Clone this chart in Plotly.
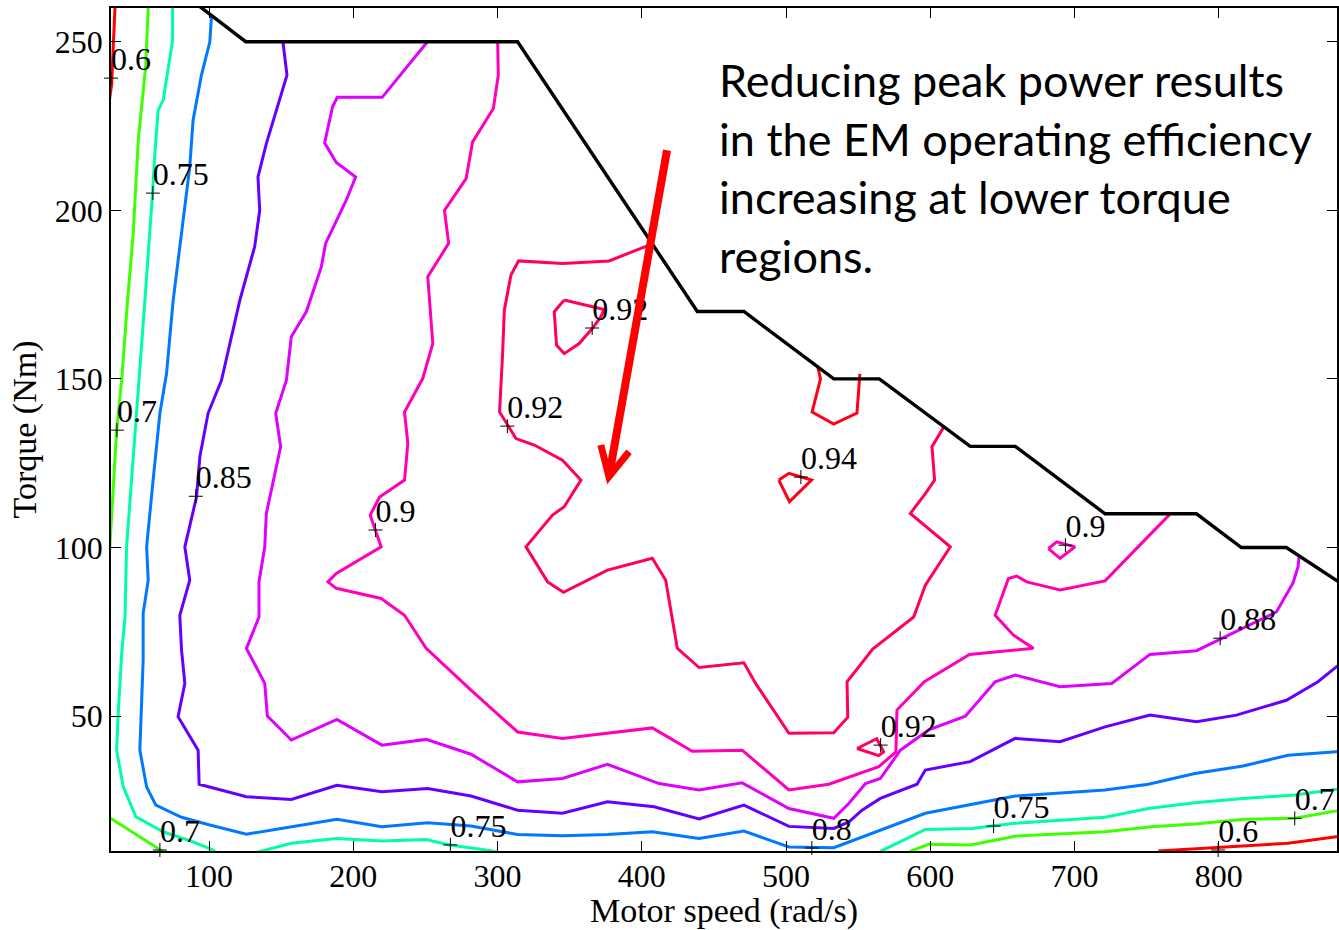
import plotly.graph_objects as go

# ---------------- data (speed in rad/s, torque in Nm) ----------------
X_TICKS = [100, 200, 300, 400, 500, 600, 700, 800]
Y_TICKS = [50, 100, 150, 200, 250]

# maximum torque envelope (black)
ENVELOPE_SPEED = [90.0, 125.4, 313.9, 438.5, 470.8, 533.1, 564.7, 627.7, 658.9, 721.2, 784.6, 815.7, 846.9, 881.5, 900.0]
ENVELOPE_TORQUE = [261.6, 250.0, 250.0, 170.0, 170.0, 150.0, 150.0, 130.0, 130.0, 110.0, 110.0, 100.0, 100.0, 90.3, 85.1]

# efficiency 0.6
C060_A_SPEED = [35.0, 34.7, 32.4, 31.0]
C060_A_TORQUE = [262.0, 259.6, 237.1, 233.0]
C060_B_SPEED = [758.1, 799.6, 848.0, 881.5, 900.0]
C060_B_TORQUE = [10.0, 11.1, 12.3, 14.2, 15.2]

# efficiency 0.7
C070_A_SPEED = [58.0, 57.8, 56.0, 50.9, 47.4, 43.5, 39.4, 35.9, 32.4, 30.0]
C070_A_TORQUE = [262.0, 259.6, 242.5, 220.8, 193.1, 173.4, 149.6, 134.8, 109.1, 91.5]
C070_B_SPEED = [30.0, 31.8, 63.6, 67.3, 69.2]
C070_B_TORQUE = [20.2, 19.7, 11.1, 10.0, 9.5]
C070_C_SPEED = [584.0, 587.3, 598.9, 627.7, 658.9, 721.2, 753.4, 783.5, 818.1, 852.7, 881.5, 900.0]
C070_C_TORQUE = [9.0, 10.1, 12.0, 11.8, 14.4, 15.7, 17.2, 18.0, 19.4, 19.7, 21.9, 23.3]

# efficiency 0.75
C075_A_SPEED = [74.7, 74.7, 68.2, 64.7, 62.4, 60.8, 55.5, 53.2, 49.8, 42.8, 41.7, 39.4, 37.0, 35.9,
                40.5, 49.3, 68.2, 88.9, 102.8, 104.5]
C075_A_TORQUE = [262.0, 250.4, 232.7, 229.7, 216.9, 205.0, 173.3, 159.5, 139.8, 100.2, 79.4, 68.6, 50.8, 39.9,
                 29.0, 20.1, 15.7, 12.7, 10.3, 9.5]
C075_B_SPEED = [132.0, 137.4, 157.0, 188.2, 220.4, 250.5, 266.6, 295.5, 300.0]
C075_B_TORQUE = [9.5, 10.1, 12.3, 13.7, 13.0, 13.4, 11.8, 10.1, 9.6]
C075_C_SPEED = [563.0, 566.5, 596.6, 628.8, 643.9, 658.9, 721.2, 751.2, 783.5, 816.9, 852.7, 881.5, 900.0]
C075_C_TORQUE = [9.0, 10.1, 16.4, 16.7, 17.5, 18.2, 20.0, 22.6, 24.3, 25.6, 26.6, 28.3, 29.4]

# efficiency 0.8
C080_SPEED = [101.7, 100.5, 94.7, 88.9, 86.6, 80.9, 75.1, 70.5, 65.9, 61.2, 56.7, 57.8, 54.3, 54.3, 53.2, 52.0,
              56.7, 63.1, 80.9, 100.5, 125.9, 155.9, 188.6, 219.8, 251.6, 281.6, 313.9, 345.0, 376.2, 407.3,
              439.7, 470.8, 502.0, 533.1, 543.5, 566.5, 596.6, 658.9, 721.2, 751.2, 783.5, 816.9, 848.1, 881.5, 900.0]
C080_TORQUE = [257.8, 249.9, 240.1, 226.7, 212.9, 193.1, 173.3, 151.6, 139.8, 120.0, 100.2, 90.3, 80.5, 66.6, 51.8, 39.9,
               29.0, 23.6, 20.0, 17.7, 15.0, 17.2, 19.4, 17.2, 18.4, 17.4, 14.9, 14.5, 14.9, 15.7,
               13.7, 15.9, 11.2, 11.0, 12.7, 16.4, 21.2, 26.3, 28.1, 29.8, 33.0, 35.2, 38.4, 39.4, 40.0]

# efficiency 0.85
C085_SPEED = [151.2, 154.0, 139.7, 133.9, 135.1, 131.6, 121.3, 108.6, 99.3, 93.6, 91.3, 83.2, 86.6, 79.7, 80.9,
              83.2, 78.5, 92.4, 93.1, 125.9, 157.0, 188.6, 219.8, 251.6, 281.6, 313.9, 345.0, 376.2, 408.5,
              439.7, 470.8, 502.0, 533.1, 543.5, 552.7, 565.4, 590.8, 596.6, 627.7, 658.9, 690.0, 721.2, 752.3,
              784.6, 812.3, 846.9, 868.8, 881.5, 900.0]
C085_TORQUE = [250.0, 240.1, 219.8, 209.9, 200.0, 189.2, 173.3, 149.6, 139.8, 126.9, 115.0, 100.2, 90.3, 79.9, 69.6,
               59.7, 49.8, 39.9, 29.8, 26.1, 25.3, 29.5, 27.6, 28.5, 26.3, 22.1, 21.2, 24.6, 23.1,
               19.5, 23.6, 17.3, 16.7, 18.6, 22.1, 25.6, 29.8, 34.0, 36.5, 43.4, 42.4, 46.8, 50.3,
               48.3, 50.3, 54.7, 60.2, 64.6, 71.0]

# efficiency 0.88
C088_SPEED = [251.4, 220.0, 188.9, 185.6, 180.1, 188.2, 201.6, 195.1, 180.8, 177.8, 167.4, 157.0, 153.6, 146.2,
              149.6, 139.7, 138.6, 134.6, 134.6, 125.9, 138.6, 140.4, 157.0, 188.6, 219.8, 250.5, 281.6, 313.9,
              345.0, 376.2, 412.0, 439.7, 469.6, 502.0, 533.1, 543.5, 555.1, 565.4, 579.3, 598.9, 624.3, 645.0,
              658.9, 690.0, 725.8, 752.3, 784.6, 801.9, 840.0, 851.5, 855.0, 855.7]
C088_TORQUE = [250.0, 233.5, 233.5, 230.7, 220.0, 214.2, 209.9, 203.0, 190.2, 183.2, 169.9, 162.5, 149.6, 139.8,
               129.9, 110.1, 100.2, 89.8, 79.4, 70.1, 59.7, 50.0, 42.9, 49.0, 41.4, 43.1, 38.7, 30.5,
               31.5, 35.7, 30.0, 28.1, 30.2, 22.6, 19.7, 24.1, 30.0, 31.5, 39.9, 45.9, 50.0, 60.2,
               62.2, 58.7, 59.7, 68.3, 69.4, 73.0, 80.9, 89.5, 94.3, 97.4]

# efficiency 0.9
C090_A_SPEED = [300.1, 300.5, 297.1, 282.7, 278.2, 263.2, 266.1, 251.6, 255.1, 248.1, 235.5, 237.8, 235.5, 218.2,
                211.7, 219.3, 188.2, 182.4, 188.2, 219.3, 235.5, 250.5, 281.6, 313.9, 345.0, 376.2, 407.3, 435.0,
                469.6, 502.0, 529.7, 564.3, 576.2, 576.9, 595.9, 627.2, 671.5, 657.7, 645.0, 654.2, 660.0, 666.9,
                690.0, 721.2, 745.4, 766.2]
C090_A_TORQUE = [250.0, 240.1, 230.2, 220.3, 209.4, 200.0, 190.2, 180.3, 160.5, 150.1, 140.2, 130.9, 120.0, 115.0,
                 109.6, 100.2, 92.3, 89.8, 87.9, 84.9, 79.9, 70.1, 57.7, 45.3, 43.4, 44.9, 46.5, 39.6,
                 39.9, 28.1, 29.8, 35.0, 39.4, 51.8, 60.2, 68.3, 70.1, 74.0, 79.9, 90.8, 91.5, 89.8,
                 87.4, 90.1, 100.7, 109.9]
C090_B_SPEED = [681.9, 687.7, 700.4, 690.0, 681.9]
C090_B_TORQUE = [99.7, 101.7, 100.2, 96.8, 99.7]

# efficiency 0.92
C092_A_SPEED = [405.1, 377.4, 345.0, 314.6, 309.3, 304.7, 303.5, 301.4, 312.8, 325.5, 345.0, 357.8, 346.2, 338.1,
                319.7, 334.7, 345.7, 376.2, 407.3, 416.6, 424.6, 439.7, 470.8, 478.9, 502.0, 533.1, 542.8, 542.3,
                560.1, 588.5, 596.6, 613.9, 586.2, 596.6, 603.0, 601.2, 609.3]
C092_A_TORQUE = [189.7, 185.0, 184.2, 185.0, 180.8, 170.4, 157.5, 140.2, 132.3, 130.4, 125.9, 120.0, 112.1, 109.6,
                 100.2, 89.8, 86.7, 93.3, 96.8, 90.3, 70.1, 64.4, 65.8, 59.7, 44.9, 45.1, 49.7, 60.2,
                 69.9, 79.4, 88.8, 100.2, 110.1, 116.0, 120.0, 129.9, 135.7]
C092_B_SPEED = [346.2, 373.9, 371.6, 365.8, 356.6, 346.2, 340.9, 339.3, 346.2]
C092_B_TORQUE = [173.4, 170.6, 168.4, 165.0, 160.5, 157.5, 160.0, 169.9, 173.4]
C092_C_SPEED = [549.2, 562.9, 567.7, 564.3, 549.2]
C092_C_TORQUE = [40.4, 43.3, 39.4, 38.3, 40.4]

# efficiency 0.94
C094_A_SPEED = [521.8, 523.9, 518.1, 533.1, 549.2, 550.9, 551.2]
C094_A_TORQUE = [154.0, 150.0, 140.2, 136.6, 139.9, 150.0, 151.5]
C094_B_SPEED = [495.0, 502.0, 517.7, 502.4, 495.0]
C094_B_TORQUE = [120.0, 122.0, 120.0, 113.6, 120.0]

# contour labels
LABEL_SPEED = [32.0, 61.0, 36.1, 90.8, 215.4, 306.8, 365.6, 510.3, 693.7, 801.0, 565.6, 517.9, 643.9, 852.7, 799.6, 267.3, 65.9]
LABEL_TORQUE = [239.2, 205.1, 134.8, 115.2, 105.2, 136.0, 165.1, 120.9, 100.7, 73.1, 41.4, 10.9, 17.4, 19.7, 10.3, 11.8, 10.3]
LABEL_TEXT = ["0.6", "0.75", "0.7", "0.85", "0.9", "0.92", "0.92", "0.94", "0.9", "0.88", "0.92", "0.8", "0.75",
              "0.7", "0.6", "0.75", "0.7"]

# annotation arrow (speed, torque)
ARROW_TAIL = (417.5, 217.8)
ARROW_TIP = (377.2, 121.0)
ARROW_LEFT_ARM = (371.6, 130.4)
ARROW_RIGHT_ARM = (391.2, 128.4)

NOTE_LINES = ["Reducing peak power results", "in the EM operating efficiency",
              "increasing at lower torque", "regions."]

LEVEL_COLORS = {
    0.60: "#ff0000",
    0.70: "#40ff00",
    0.75: "#00ffa0",
    0.80: "#0078ff",
    0.85: "#6400ff",
    0.88: "#e000ff",
    0.90: "#ff00b8",
    0.92: "#ff0060",
    0.94: "#ff0018",
}

SEGMENTS = [
    (0.60, C060_A_SPEED, C060_A_TORQUE), (0.60, C060_B_SPEED, C060_B_TORQUE),
    (0.70, C070_A_SPEED, C070_A_TORQUE), (0.70, C070_B_SPEED, C070_B_TORQUE), (0.70, C070_C_SPEED, C070_C_TORQUE),
    (0.75, C075_A_SPEED, C075_A_TORQUE), (0.75, C075_B_SPEED, C075_B_TORQUE), (0.75, C075_C_SPEED, C075_C_TORQUE),
    (0.80, C080_SPEED, C080_TORQUE),
    (0.85, C085_SPEED, C085_TORQUE),
    (0.88, C088_SPEED, C088_TORQUE),
    (0.90, C090_A_SPEED, C090_A_TORQUE), (0.90, C090_B_SPEED, C090_B_TORQUE),
    (0.92, C092_A_SPEED, C092_A_TORQUE), (0.92, C092_B_SPEED, C092_B_TORQUE), (0.92, C092_C_SPEED, C092_C_TORQUE),
    (0.94, C094_A_SPEED, C094_A_TORQUE), (0.94, C094_B_SPEED, C094_B_TORQUE),
]

SERIF = "Liberation Serif, Times New Roman, serif"

fig = go.Figure()
for level, xs, ys in SEGMENTS:
    fig.add_trace(go.Scatter(x=xs, y=ys, mode="lines", name=f"{level:g}",
                             line=dict(color=LEVEL_COLORS[level], width=3), hoverinfo="skip"))

fig.add_trace(go.Scatter(x=ENVELOPE_SPEED, y=ENVELOPE_TORQUE, mode="lines", name="max torque",
                         line=dict(color="black", width=3.4), hoverinfo="skip"))

# contour label markers (+) and texts
fig.add_trace(go.Scatter(x=LABEL_SPEED, y=LABEL_TORQUE, mode="markers", cliponaxis=False,
                         marker=dict(symbol="cross-thin", size=10, color="black",
                                     line=dict(color="black", width=1)), hoverinfo="skip"))
fig.add_trace(go.Scatter(x=LABEL_SPEED, y=LABEL_TORQUE, mode="text", text=LABEL_TEXT,
                         textposition="top right", cliponaxis=False,
                         textfont=dict(family=SERIF, size=32, color="black"), hoverinfo="skip"))

# red arrow
fig.add_shape(type="line", x0=ARROW_TAIL[0], y0=ARROW_TAIL[1], x1=ARROW_TIP[0], y1=ARROW_TIP[1],
              xref="x", yref="y", line=dict(color="#ff0000", width=8))
fig.add_shape(type="path", xref="x", yref="y",
              path=(f"M {ARROW_LEFT_ARM[0]},{ARROW_LEFT_ARM[1]} L {ARROW_TIP[0]},{ARROW_TIP[1]} "
                    f"L {ARROW_RIGHT_ARM[0]},{ARROW_RIGHT_ARM[1]}"),
              line=dict(color="#ff0000", width=7))

fig.add_annotation(xref="paper", yref="paper", x=0.494, y=0.949, xanchor="left", yanchor="top",
                   align="left", showarrow=False, text="<br>".join(NOTE_LINES),
                   font=dict(family="Lato, Open Sans, sans-serif", size=45, color="black"))

axis_common = dict(ticks="inside", ticklen=10, tickwidth=1, tickcolor="black", showline=True,
                   linecolor="black", linewidth=1.5, mirror="ticks", showgrid=False, zeroline=False,
                   tickfont=dict(family=SERIF, size=32, color="black"))

fig.update_layout(
    width=1339, height=930,
    margin=dict(l=111, r=0, t=8, b=79),
    plot_bgcolor="white", paper_bgcolor="white", showlegend=False,
    xaxis=dict(range=[32, 882], tickvals=X_TICKS, ticklabelstandoff=-4,
               title=dict(text="Motor speed (rad/s)", font=dict(family=SERIF, size=34, color="black"), standoff=6),
               **axis_common),
    yaxis=dict(range=[10, 260], tickvals=Y_TICKS,
               title=dict(text="Torque (Nm)", font=dict(family=SERIF, size=34, color="black"), standoff=8),
               **axis_common),
)

fig.write_html("out.html")
